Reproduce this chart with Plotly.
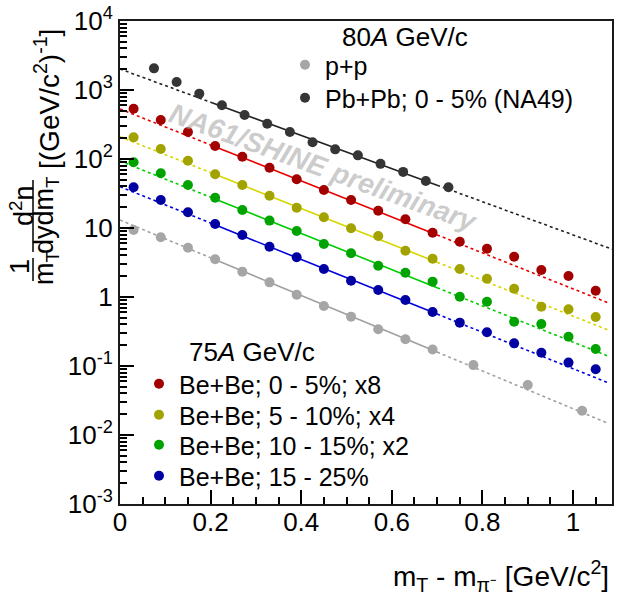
import plotly.graph_objects as go

# ---------------- data ----------------
x_bebe = [0.03, 0.09, 0.15, 0.21, 0.27, 0.33, 0.39, 0.45, 0.51, 0.57, 0.63, 0.69,
          0.75, 0.81, 0.87, 0.93, 0.99, 1.05]
bebe_0_5_x8 = [536, 367, 246, 154, 108, 74.8, 50.8, 35.6, 25.5, 17.8, 13.4, 8.55,
               6.32, 5.01, 3.84, 2.46, 2.01, 1.23]
bebe_5_10_x4 = [206, 140, 94.5, 60, 42, 29.4, 19.7, 14.3, 9.9, 7.66, 4.69, 3.59,
                2.55, 1.84, 1.32, 0.723, 0.663, 0.513]
bebe_10_15_x2 = [89.5, 62, 42, 27.5, 18.2, 12.8, 9.05, 5.87, 4.30, 2.84, 2.25, 1.67,
                 1.01, 0.855, 0.438, 0.407, 0.266, 0.176]
bebe_15_25 = [38.9, 25.5, 16.9, 11.4, 7.92, 5.36, 3.76, 2.55, 1.72, 1.26, 0.905, 0.607,
              0.425, 0.308, 0.213, 0.156, 0.112, 0.0895]

x_pp = [0.03, 0.09, 0.15, 0.21, 0.27, 0.33, 0.39, 0.45, 0.51, 0.57, 0.63, 0.69,
        0.78, 0.90, 1.02]
pp = [9.35, 7.33, 5.18, 3.52, 2.33, 1.63, 1.08, 0.741, 0.519, 0.340, 0.244, 0.173,
      0.103, 0.053, 0.0225]

x_pbpb = [0.075, 0.125, 0.175, 0.225, 0.275, 0.325, 0.375, 0.425, 0.475, 0.525,
          0.575, 0.625, 0.675, 0.725]
pbpb = [2060, 1306, 885, 600, 434, 325, 246, 175, 138, 113, 85, 65, 48, 39]

# exponential fits: log10(value at x=0) and slope of log10 per GeV/c^2
fit_names = ["pbpb", "red", "yellow", "green", "blue", "pp"]
fit_log10_at0 = [3.304, 2.725, 2.323, 1.971, 1.599, 1.116]
fit_slope = [-2.404, -2.607, -2.600, -2.624, -2.638, -2.735]
fit_xmax = [1.086, 1.077, 1.077, 1.077, 1.077, 1.077]
fit_range = [0.2, 0.7]

y_tickvals = [1e-3, 1e-2, 1e-1, 1, 10, 100, 1e3, 1e4]
y_ticktext = ["10<sup>-3</sup>", "10<sup>-2</sup>", "10<sup>-1</sup>", "1", "10",
              "10<sup>2</sup>", "10<sup>3</sup>", "10<sup>4</sup>"]
x_tickvals = [0, 0.2, 0.4, 0.6, 0.8, 1.0]
x_ticktext = ["0", "0.2", "0.4", "0.6", "0.8", "1"]

# ---------------- styles ----------------
FONT = "Arial, Liberation Sans, sans-serif"
W, H = 625, 598
L, R, T, B = 120, 13, 21, 94
PW, PH = W - L - R, H - T - B


def px(xp):
    return (xp - L) / PW


def py(yp):
    return (H - B - yp) / PH


marker_col = {"pbpb": "#353535", "red": "#a30000", "yellow": "#a3a300",
              "green": "#00a300", "blue": "#0000a3", "pp": "#a6a6a6"}
line_col = {"pbpb": "#222222", "red": "#e80000", "yellow": "#d6d600",
            "green": "#00cc00", "blue": "#0000dd", "pp": "#a0a0a0"}

fig = go.Figure()

# fit lines
for name, a0, s, xm in zip(fit_names, fit_log10_at0, fit_slope, fit_xmax):
    f = lambda x: 10 ** (a0 + s * x)
    segs = [([0, fit_range[0]], "dot"), (fit_range, "solid"), ([fit_range[1], xm], "dot")]
    for xs, dash in segs:
        fig.add_trace(go.Scatter(x=xs, y=[f(v) for v in xs], mode="lines",
                                 line=dict(color=line_col[name], width=1.6, dash=dash),
                                 showlegend=False, hoverinfo="skip"))

# data points: (key, x, y, label, legend id, legend marker position in px)
series = [
    ("pp", x_pp, pp, "p+p", "legend", (305, 65)),
    ("pbpb", x_pbpb, pbpb, "Pb+Pb; 0 - 5% (NA49)", "legend2", (305, 98)),
    ("red", x_bebe, bebe_0_5_x8, "Be+Be; 0 - 5%; x8", "legend3", (159, 384)),
    ("yellow", x_bebe, bebe_5_10_x4, "Be+Be; 5 - 10%; x4", "legend4", (159, 415)),
    ("green", x_bebe, bebe_10_15_x2, "Be+Be; 10 - 15%; x2", "legend5", (159, 445)),
    ("blue", x_bebe, bebe_15_25, "Be+Be; 15 - 25%", "legend6", (159, 476)),
]
legend_common = dict(bgcolor="rgba(0,0,0,0)", borderwidth=0,
                     font=dict(family=FONT, size=25, color="black"),
                     itemwidth=30, tracegroupgap=0, xanchor="left", yanchor="middle",
                     itemsizing="trace")
legends = {}
for key, xs, ys, label, lg, (mx, my) in series:
    fig.add_trace(go.Scatter(x=xs, y=ys, mode="markers", name=label, legend=lg,
                             marker=dict(symbol="circle", size=10, color=marker_col[key],
                                         line=dict(width=0))))
    legends[lg] = dict(x=px(mx - 20), y=py(my), **legend_common)

fig.update_layout(
    width=W, height=H,
    margin=dict(l=L, r=R, t=T, b=B, autoexpand=False),
    paper_bgcolor="white", plot_bgcolor="white",
    font=dict(family=FONT, size=25, color="black"),
    **legends,
    xaxis=dict(range=[0, 1.086], tickmode="array", tickvals=x_tickvals, ticktext=x_ticktext,
               ticks="inside", ticklen=14, tickwidth=1.5, tickcolor="black",
               minor=dict(ticks="inside", ticklen=7, dtick=0.05, tickwidth=1.5,
                          tickcolor="black", showgrid=False),
               showline=True, linecolor="#1a1a1a", linewidth=2, mirror=True,
               showgrid=False, zeroline=False, automargin=False,
               ticklabelstandoff=-6,
               tickfont=dict(family=FONT, size=26)),
    yaxis=dict(type="log", range=[-3, 4], tickmode="array", tickvals=y_tickvals,
               ticktext=y_ticktext, ticks="inside", ticklen=14, tickwidth=1.5,
               tickcolor="black",
               minor=dict(ticks="inside", ticklen=7, dtick="D1", tickwidth=1.5,
                          tickcolor="black", showgrid=False),
               showline=True, linecolor="#1a1a1a", linewidth=2, mirror=True,
               showgrid=False, zeroline=False, automargin=False,
               tickfont=dict(family=FONT, size=26)),
)

ann = []
# legend headers
ann.append(dict(text="80<i>A</i> GeV/c", x=px(405), y=py(37), xref="paper", yref="paper",
                showarrow=False, font=dict(family=FONT, size=26), xanchor="center", yanchor="middle"))
ann.append(dict(text="75<i>A</i> GeV/c", x=px(252), y=py(352), xref="paper", yref="paper",
                showarrow=False, font=dict(family=FONT, size=26), xanchor="center", yanchor="middle"))
# watermark
ann.append(dict(text="<b><i>NA61/SHINE preliminary</i></b>", x=px(323), y=py(167),
                xref="paper", yref="paper", showarrow=False, textangle=20,
                font=dict(family=FONT, size=28, color="rgba(170,170,170,0.6)"),
                xanchor="center", yanchor="middle"))
# x axis title
ann.append(dict(text="m<sub>T</sub> - m<sub>π⁻</sub> [GeV/c<sup>2</sup>]", x=px(611), y=py(576),
                xref="paper", yref="paper", showarrow=False, font=dict(family=FONT, size=28),
                xanchor="right", yanchor="middle"))
# y axis title pieces
ypieces = [("1", 20, 267, 27), ("m<sub>T</sub>", 46, 268, 27), ("d<sup>2</sup>n", 22, 206, 27),
           ("dydm<sub>T</sub>", 46, 215, 27), ("[(GeV/c<sup>2</sup>)<sup>-1</sup>]", 47, 99, 28)]
for t, xx, yy, fs in ypieces:
    ann.append(dict(text=t, x=px(xx), y=py(yy), xref="paper", yref="paper", showarrow=False,
                    textangle=-90, font=dict(family=FONT, size=fs),
                    xanchor="center", yanchor="middle"))
fig.update_layout(annotations=ann)

# fraction bars of the y-axis title
fig.add_shape(type="line", xref="paper", yref="paper", x0=px(33), x1=px(33),
              y0=py(258), y1=py(281), line=dict(color="black", width=1.5))
fig.add_shape(type="line", xref="paper", yref="paper", x0=px(33), x1=px(33),
              y0=py(180), y1=py(252), line=dict(color="black", width=1.5))

fig.write_html("out.html", config={"displayModeBar": False},
               post_script="document.body.style.margin='0';")
